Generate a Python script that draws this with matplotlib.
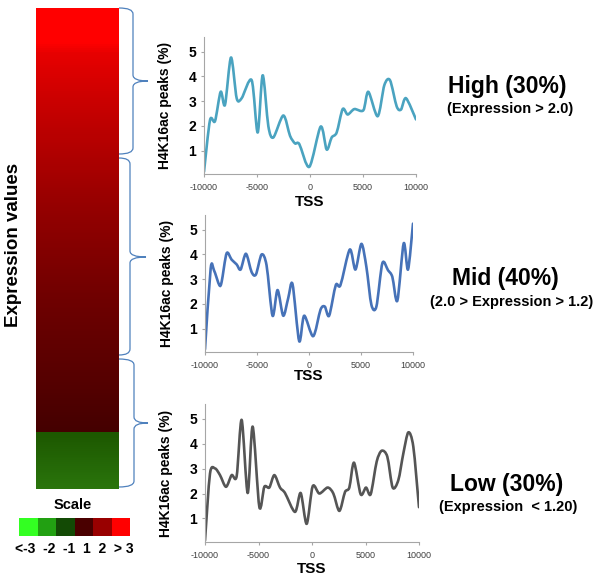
import matplotlib
matplotlib.use("Agg")
import numpy as np
import matplotlib.pyplot as plt
from matplotlib.path import Path
from matplotlib.patches import PathPatch
from matplotlib.colors import LinearSegmentedColormap

plt.rcParams["font.family"] = ["Liberation Sans", "DejaVu Sans"]

# ---------------- data ----------------
high_x = [-10000, -9434, -8962, -8428, -8019, -7453, -6918, -6447, -5503, -4937,
          -4465, -3931, -3459, -2516, -1887, -1415, -1006, -63, 1006, 1572,
          2044, 2516, 3082, 3553, 4182, 5031, 5503, 6384, 7013, 7547,
          8176, 8585, 9057, 10000]
high_y = [0.14, 2.23, 2.19, 3.38, 2.85, 4.77, 3.12, 3.12, 3.85, 1.73,
          4.05, 1.99, 1.53, 2.42, 1.60, 1.29, 1.26, 0.34, 1.97, 1.04,
          1.53, 1.73, 2.68, 2.46, 2.68, 2.63, 3.38, 2.39, 3.65, 3.85,
          2.79, 2.66, 3.12, 2.26]

mid_x = [-10000, -9456, -9136, -8624, -8400, -7920, -7440, -6960, -6576, -6064,
         -5520, -5104, -4560, -4080, -3504, -3024, -2480, -2000, -1584, -944,
         -464, 400, 1104, 1520, 1936, 2576, 3024, 3920, 4464, 5040,
         5520, 6000, 6480, 7056, 7600, 8016, 8496, 9104, 9520, 10000]
mid_y = [0.16, 3.43, 3.36, 2.76, 2.89, 4.05, 3.79, 3.60, 3.39, 4.03,
         3.29, 3.19, 4.00, 3.56, 1.52, 2.56, 1.52, 2.23, 2.80, 0.49,
         1.52, 0.69, 1.76, 1.89, 1.52, 2.76, 2.76, 4.20, 3.39, 4.43,
         3.49, 1.96, 1.89, 3.65, 3.36, 3.09, 2.13, 4.45, 3.39, 5.25]

low_x = [-10000, -9533, -9065, -8598, -8037, -7508, -7040, -6573, -6012, -5545,
         -4922, -4455, -3988, -3520, -2991, -2523, -1589, -1059, -498, 62,
         685, 1464, 1994, 2555, 3084, 3489, 3925, 4548, 5047, 5483,
         6044, 6511, 7040, 7539, 8069, 8536, 9003, 9470, 10000]
low_y = [0.11, 2.80, 3.01, 2.74, 2.27, 2.74, 2.70, 4.96, 2.02, 4.69,
         1.46, 2.27, 2.24, 2.74, 2.24, 2.02, 1.26, 2.02, 0.78, 2.29,
         2.00, 2.24, 2.00, 1.30, 2.06, 2.24, 3.24, 1.97, 2.24, 1.97,
         3.28, 3.72, 3.48, 2.24, 2.54, 3.61, 4.46, 3.88, 1.45]

group_titles = ["High (30%)", "Mid (40%)", "Low (30%)"]
group_notes = ["(Expression > 2.0)", "(2.0 > Expression > 1.2)", "(Expression  < 1.20)"]
line_colors = ["#4aa3c0", "#4672b8", "#555555"]

scale_labels = ["<-3", "-2", "-1", "1", "2", "> 3"]
scale_colors = ["#33ff22", "#22a012", "#134a05", "#4a0000", "#990000", "#ff0000"]

x_ticks = [-10000, -5000, 0, 5000, 10000]
y_ticks = [1, 2, 3, 4, 5]

# ---------------- figure ----------------
W, H = 600, 584
fig = plt.figure(figsize=(6, 5.84), dpi=100)


def px_axes(l, t, r, b):
    return fig.add_axes([l / W, 1 - b / H, (r - l) / W, (b - t) / H])


def smooth_path(xs, ys, k=7.0):
    # Catmull-Rom -> cubic bezier (like Excel "smoothed line")
    p = np.column_stack([xs, ys]).astype(float)
    verts = [p[0]]
    codes = [Path.MOVETO]
    n = len(p)
    for i in range(n - 1):
        p0 = p[i - 1] if i > 0 else p[i]
        p3 = p[i + 2] if i + 2 < n else p[i + 1]
        c1 = p[i] + (p[i + 1] - p0) / k
        c2 = p[i + 1] - (p3 - p[i]) / k
        verts += [c1, c2, p[i + 1]]
        codes += [Path.CURVE4] * 3
    return Path(verts, codes)


# ---- heatmap column ----
ax_h = px_axes(36, 8, 119, 489)
heat_cmap = LinearSegmentedColormap.from_list("expr", [
    (0.0, "#ff0000"), (0.07, "#ff0000"), (0.09, "#e80000"), (0.2, "#c80000"),
    (0.4, "#980000"), (0.6, "#700000"), (0.8, "#520000"), (0.885, "#440000"),
    (0.886, "#1d5800"), (1.0, "#2a740c")])
grad = np.linspace(0, 1, 481).reshape(-1, 1)
ax_h.imshow(grad, cmap=heat_cmap, aspect="auto", vmin=0, vmax=1)
ax_h.set_axis_off()

# ---- scale bar ----
ax_s = px_axes(19, 518, 130, 536)
ax_s.bar(range(len(scale_colors)), 1, width=1, color=scale_colors)
ax_s.set_xlim(-0.5, len(scale_colors) - 0.5)
ax_s.set_ylim(0, 1)
ax_s.set_xticks([])
ax_s.set_yticks([])
for s in ax_s.spines.values():
    s.set_visible(False)
ax_s.text(0.5, -0.7, "  ".join(scale_labels), transform=ax_s.transAxes,
          fontsize=10, fontweight="bold", ha="center", va="center")

# ---- line charts ----
boxes = [(204, 37, 416, 174), (205, 215, 413, 352), (205, 404, 419, 542)]
xs_all = [high_x, mid_x, low_x]
ys_all = [high_y, mid_y, low_y]
tss_off = [-0.204, -0.175, -0.196]
title_pos = [((507, 86), (510, 109)), ((505, 278), (512, 302)), ((507, 484), (508, 507))]

for i, (l, t, r, b) in enumerate(boxes):
    ax = px_axes(l, t, r, b)
    ax.add_patch(PathPatch(smooth_path(xs_all[i], ys_all[i]), fill=False,
                           edgecolor=line_colors[i], lw=1.9, capstyle="round",
                           joinstyle="round"))
    ax.set_xlim(-10000, 10000)
    ax.set_ylim(0.05, 5.6)
    for s in ["top", "right"]:
        ax.spines[s].set_visible(False)
    for s in ["left", "bottom"]:
        ax.spines[s].set_color("#a6a6a6")
        ax.spines[s].set_linewidth(0.8)
    ax.set_xticks(x_ticks)
    ax.set_xticklabels([str(v) for v in x_ticks], fontsize=6.5, color="#404040")
    ax.set_yticks(y_ticks)
    ax.set_yticklabels([str(v) for v in y_ticks], fontsize=10, fontweight="bold")
    ax.tick_params(axis="both", direction="out", length=2.5, width=0.8, color="#a6a6a6")
    ax.tick_params(axis="x", pad=4)
    ax.tick_params(axis="y", pad=3)
    ax.set_ylabel("H4K16ac peaks (%)", fontsize=10, fontweight="bold")
    ax.yaxis.set_label_coords(-0.15, 0.5)
    ax.set_xlabel("TSS", fontsize=11, fontweight="bold")
    ax.xaxis.set_label_coords(0.5, tss_off[i])
    ax.xaxis.label.set_verticalalignment("center")

    (tx, ty), (nx_, ny_) = title_pos[i]
    fig.text(tx / W, 1 - ty / H, group_titles[i], fontsize=16.5, fontweight="bold",
             ha="center", va="center")
    fig.text(nx_ / W, 1 - ny_ / H, group_notes[i], fontsize=10.5, fontweight="bold",
             ha="center", va="center")

# ---- overlay: braces and labels ----
ov = fig.add_axes([0, 0, 1, 1], zorder=5)
ov.set_xlim(0, W)
ov.set_ylim(H, 0)
ov.set_axis_off()


def brace(x_back, x_mid, x_tip, y_top, y_tip, y_bot, r=6):
    verts = [(x_back, y_top), (x_mid, y_top), (x_mid, y_top + r),
             (x_mid, y_tip - r), (x_mid, y_tip), (x_tip, y_tip),
             (x_mid, y_tip), (x_mid, y_tip + r),
             (x_mid, y_bot - r), (x_mid, y_bot), (x_back, y_bot)]
    codes = [Path.MOVETO, Path.CURVE3, Path.CURVE3,
             Path.LINETO, Path.CURVE3, Path.CURVE3,
             Path.CURVE3, Path.CURVE3,
             Path.LINETO, Path.CURVE3, Path.CURVE3]
    ov.add_patch(PathPatch(Path(verts, codes), fill=False, edgecolor="#4f81bd", lw=0.9))


brace(119, 133, 148, 8, 81, 154)
brace(119, 130, 146, 158, 257, 355)
brace(119, 134, 148, 359, 423, 487)

fig.text(14 / W, 1 - 245 / H, "Expression values", rotation=90, fontsize=13.5,
         fontweight="bold", ha="center", va="center")
fig.text(73 / W, 1 - 505 / H, "Scale", fontsize=10.5, fontweight="bold",
         ha="center", va="center")

fig.savefig("out.png", dpi=100)
